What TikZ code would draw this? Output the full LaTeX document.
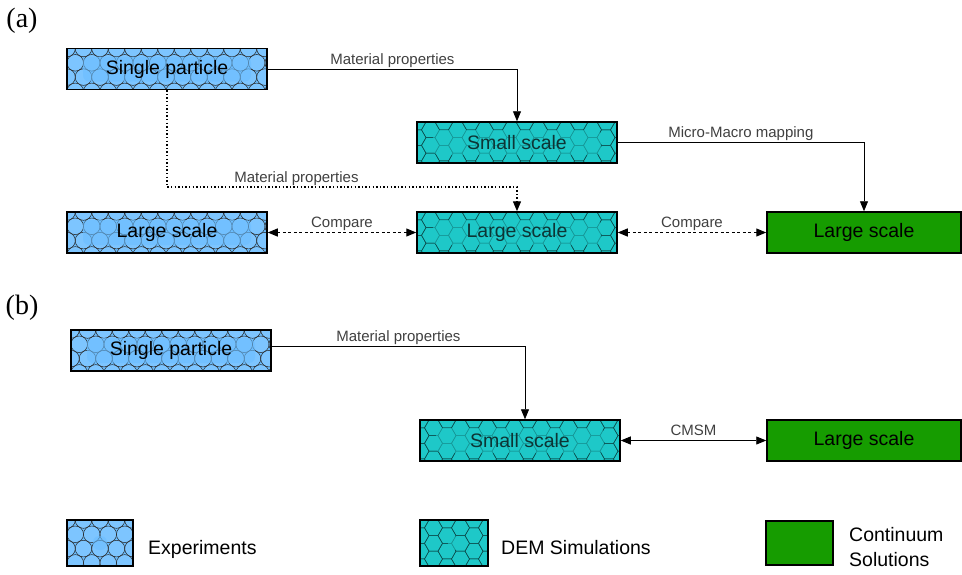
\documentclass[tikz,border=0pt]{standalone}
\usepackage{fontspec}
\newfontfamily\sans{Liberation Sans}
\newfontfamily\serifpanel{Liberation Serif}
\usetikzlibrary{arrows.meta}
\definecolor{expblue}{HTML}{6CBEFF}
\definecolor{demteal}{HTML}{1EC8C8}
\definecolor{contgreen}{HTML}{169C00}
\definecolor{lblgray}{HTML}{404040}
\definecolor{hexline}{HTML}{0B4F4F}
\definecolor{demtext}{HTML}{0D3535}
\newcommand\boxfont{\sans\fontsize{19.5}{25}\selectfont}
\newcommand\lblfont{\sans\fontsize{15}{17}\selectfont}
% pattern-filled boxes: name, cx, cy, w, h, text, fade inset x, fade inset y
\newcommand\expnode[8]{%
 \begin{scope}
 \clip ({#2-#4/2},{#3-#5/2}) rectangle ({#2+#4/2},{#3+#5/2});
 \fill[expblue] ({#2-#4/2},{#3-#5/2}) rectangle ({#2+#4/2},{#3+#5/2});
 \foreach \r in {0,...,4}{\foreach \c in {-1,...,14}{%
   \draw[line width=0.5pt, draw=black!85, fill=white, fill opacity=0.12] ({#2-#4/2+\c*16.5+mod(\r,2)*8.25},{#3-#5/2+\r*14.3}) circle[radius=8.3];}}
 \fill[expblue, opacity=0.6, rounded corners=6pt] ({#2-#4/2+#7},{#3-#5/2+#8}) rectangle ({#2+#4/2-#7},{#3+#5/2-#8});
 \end{scope}
 \node[expbox, minimum width=#4pt, minimum height=#5pt] (#1) at (#2,#3) {#6};}
\newcommand\demnode[8]{%
 \begin{scope}
 \clip ({#2-#4/2},{#3-#5/2}) rectangle ({#2+#4/2},{#3+#5/2});
 \fill[demteal] ({#2-#4/2},{#3-#5/2}) rectangle ({#2+#4/2},{#3+#5/2});
 \foreach \c in {-1,...,16}{\foreach \r in {-1,...,3}{%
   \draw[hexline, line width=0.5pt] ({#2-#4/2+\c*13.5},{#3-#5/2+\r*15.588+mod(\c,2)*7.794}) +(0:9) -- +(60:9) -- +(120:9) -- +(180:9) -- +(240:9) -- +(300:9) -- cycle;}}
 \fill[demteal, opacity=0.6, rounded corners=6pt] ({#2-#4/2+#7},{#3-#5/2+#8}) rectangle ({#2+#4/2-#7},{#3+#5/2-#8});
 \end{scope}
 \node[dembox, minimum width=#4pt, minimum height=#5pt] (#1) at (#2,#3) {#6};}
\tikzset{
 boxbase/.style={draw, line width=1.5pt, rectangle, inner sep=0pt, minimum height=41pt, font=\boxfont},
 expbox/.style={boxbase, text=black},
 dembox/.style={boxbase, text=demtext},
 contbox/.style={boxbase, fill=contgreen, minimum width=194pt, text=black},
 lbl/.style={font=\lblfont, text=lblgray, inner sep=0pt, anchor=base, yshift=5pt},
 tip/.tip={Triangle[length=10pt,width=8pt]},
 conn/.style={line width=0.9pt, -tip},
 dotconn/.style={line width=1.4pt, dash pattern=on 1.4pt off 2.2pt, -tip},
 cmpconn/.style={line width=1.1pt, dash pattern=on 3pt off 2.5pt, tip-tip},
 dblconn/.style={line width=0.9pt, tip-tip},
 legtext/.style={font=\boxfont, inner sep=0pt, text=black},
 panel/.style={font=\serifpanel\fontsize{28}{30}\selectfont, inner sep=0pt}
}
\begin{document}
\begin{tikzpicture}[x=1pt,y=-1pt]
\useasboundingbox (0,0) rectangle (962,574);
% panel labels
\node[panel] (pa) at (22,21) {(a)};
\node[panel] (pb) at (22,308) {(b)};
% (a)
\expnode{sp}{167}{69}{200}{41}{Single particle}{16}{8}
\demnode{ss}{517}{142.5}{200}{41}{Small scale}{16}{8}
\expnode{le}{167}{232.5}{200}{41}{Large scale}{16}{8}
\demnode{ld}{517}{232.5}{200}{41}{Large scale}{16}{8}
\node[contbox] (lg) at (864,232.5) {Large scale};
\draw[conn] (sp.east) -- (sp.east -| ss.north) node[lbl, midway] {Material properties} -- (ss.north);
\draw[conn] (ss.east) -- (ss.east -| lg.north) node[lbl, midway] {Micro-Macro mapping} -- (lg.north);
\coordinate (dy) at (0,187);
\draw[dotconn] (sp.south) -- (sp.south |- dy) coordinate (d1) -- (d1 -| ld.north) node[lbl, pos=0.37] {Material properties} -- (ld.north);
\draw[cmpconn] (le.east) -- (ld.west) node[lbl, midway] {Compare};
\draw[cmpconn] (ld.east) -- (lg.west) node[lbl, midway] {Compare};
% (b)
\expnode{spb}{171}{350.5}{200}{41}{Single particle}{16}{8}
\demnode{ssb}{520}{440.5}{200}{41}{Small scale}{16}{8}
\node[contbox] (lgb) at (864,440.5) {Large scale};
\coordinate (bx) at (525,0);
\draw[conn] ([yshift=4pt]spb.east) -- ([yshift=4pt]spb.east -| bx) node[lbl, midway] {Material properties} -- (bx |- ssb.north);
\draw[dblconn] (ssb.east) -- (lgb.west) node[lbl, midway] {CMSM};
% legend
\expnode{lexp}{100}{543}{66}{46}{}{40}{30}
\demnode{ldem}{454}{543}{68}{46}{}{40}{30}
\node[contbox, minimum width=67pt, minimum height=44pt] (lcont) at (799.5,543) {};
\node[legtext, anchor=base west] (texp) at (148,554) {Experiments};
\node[legtext, anchor=base west] (tdem) at (501,554) {DEM Simulations};
\node[legtext, anchor=north west, align=left] (tcont) at (849,527) {Continuum\\Solutions};
\end{tikzpicture}
\end{document}
